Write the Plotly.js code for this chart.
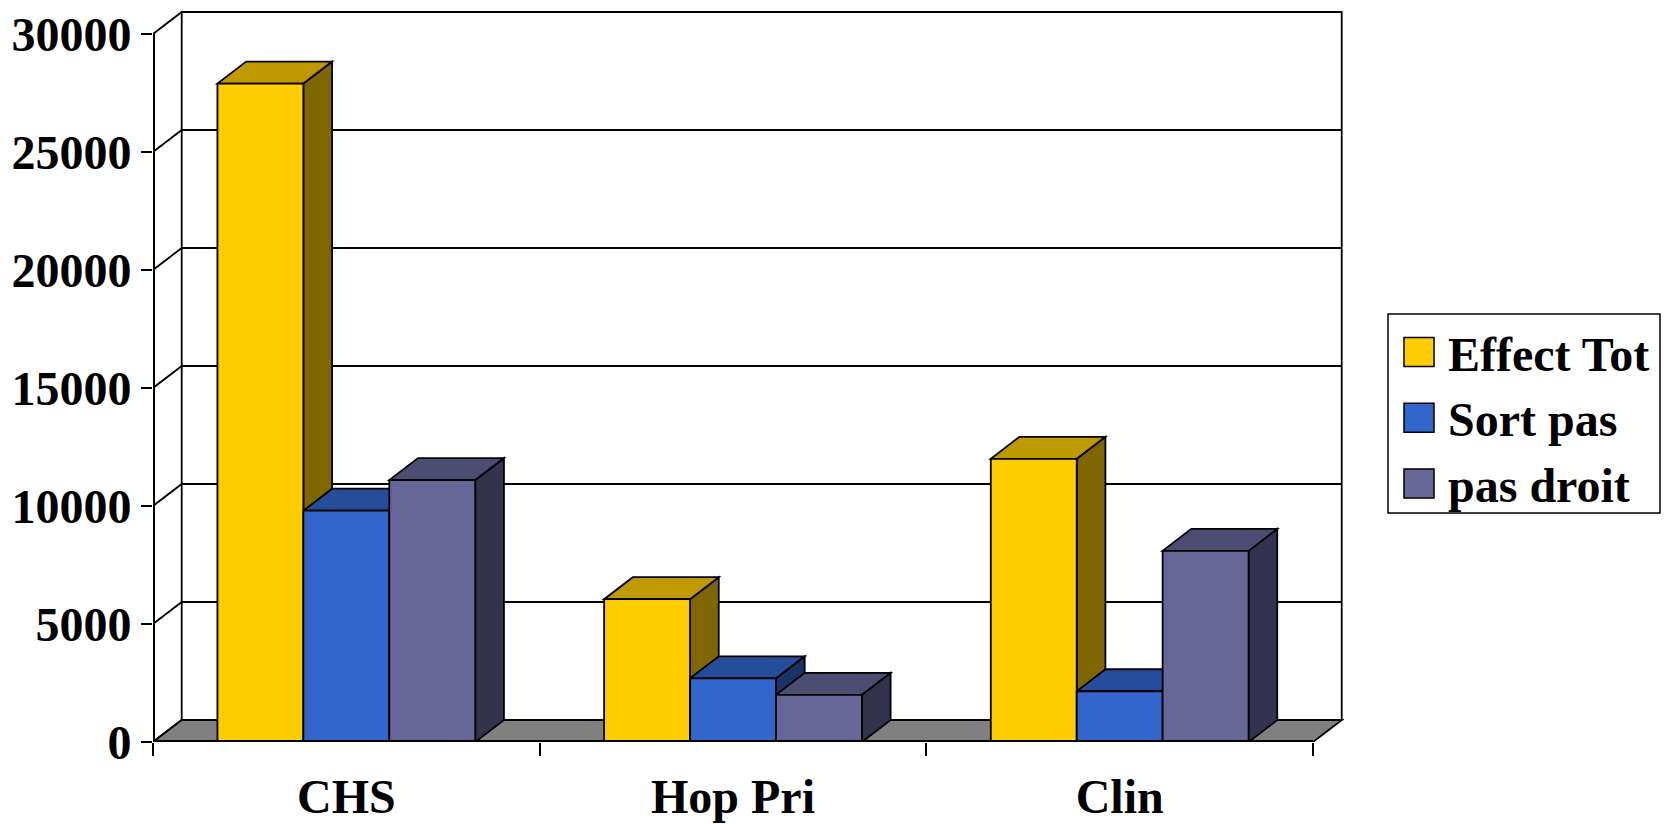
<!DOCTYPE html>
<html><head><meta charset="utf-8">
<script src="https://cdn.plot.ly/plotly-3.0.1.min.js"></script>
<style>html,body{margin:0;padding:0;background:#fff;}#chart{width:1664px;height:824px;}</style>
</head><body><div id="chart"></div>
<script>
// ---- data ----
const categories = ['CHS', 'Hop Pri', 'Clin'];
const seriesNames = ['Effect Tot', 'Sort pas', 'pas droit'];
const effectTot = [27900, 6050, 12000];
const sortPas = [9800, 2700, 2150];
const pasDroit = [11100, 2000, 8100];
const yTickVals = [0, 5000, 10000, 15000, 20000, 25000, 30000];

// ---- styling ----
const seriesValues = [effectTot, sortPas, pasDroit];
const frontColors = ['#FFCC00', '#3366CC', '#666699'];
const topColors = ['#BF9900', '#264D99', '#4D4D73'];
const sideColors = ['#806600', '#1A3366', '#33334D'];

const W = 1664, H = 824;
const M = {l: 153, r: 320, t: 10, b: 82};
const plotW = W - M.l - M.r;
const plotH = H - M.t - M.b;
const catPx = 386.67;              // pixels per category
const yMaxTick = yTickVals[yTickVals.length - 1];
const pxPerUnit = 708 / yMaxTick;  // pixels per value unit
const xMin = -0.5;
const xMax = xMin + plotW / catPx;
const yMax = plotH / pxPerUnit;
const dxu = 28.7 / catPx;          // depth offset in x units
const dyu = 22 / pxPerUnit;        // depth offset in y units
const nCat = categories.length;
const xEnd = nCat - 0.5;
const bargap = 1 / 3;
const nSer = seriesNames.length;
const bw = (1 - bargap) / nSer;
const LW = 1.8;
const FONT = {family: 'Liberation Serif, Times New Roman, serif', size: 48, color: '#000', weight: 'bold'};

const shapes = [];
// back wall
shapes.push({type: 'rect', layer: 'below', xref: 'x', yref: 'y',
  x0: xMin + dxu, x1: xEnd + dxu, y0: dyu, y1: yMaxTick + dyu,
  fillcolor: '#fff', line: {color: '#000', width: LW}});
// gridlines on back wall and diagonals on left wall
yTickVals.forEach(v => {
  shapes.push({type: 'line', layer: 'below', xref: 'x', yref: 'y',
    x0: xMin + dxu, x1: xEnd + dxu, y0: v + dyu, y1: v + dyu,
    line: {color: '#000', width: LW}});
  shapes.push({type: 'line', layer: 'below', xref: 'x', yref: 'y',
    x0: xMin, x1: xMin + dxu, y0: v, y1: v + dyu,
    line: {color: '#000', width: LW}});
});
// front y axis line
shapes.push({type: 'line', layer: 'below', xref: 'x', yref: 'y',
  x0: xMin, x1: xMin, y0: 0, y1: yMaxTick, line: {color: '#000', width: 4}});
// floor
shapes.push({type: 'path', layer: 'below', xref: 'x', yref: 'y',
  path: `M${xMin},0 L${xEnd},0 L${xEnd + dxu},${dyu} L${xMin + dxu},${dyu} Z`,
  fillcolor: '#808080', line: {color: '#000', width: LW}});
// 3D side and top faces of bars
for (let i = 0; i < nCat; i++) {
  for (let j = 0; j < nSer; j++) {
    const h = seriesValues[j][i];
    const xL = i - (1 - bargap) / 2 + j * bw;
    const xR = xL + bw;
    shapes.push({type: 'path', layer: 'below', xref: 'x', yref: 'y',
      path: `M${xR},0 L${xR},${h} L${xR + dxu},${h + dyu} L${xR + dxu},${dyu} Z`,
      fillcolor: sideColors[j], line: {color: '#000', width: LW}});
    shapes.push({type: 'path', layer: 'below', xref: 'x', yref: 'y',
      path: `M${xL},${h} L${xR},${h} L${xR + dxu},${h + dyu} L${xL + dxu},${h + dyu} Z`,
      fillcolor: topColors[j], line: {color: '#000', width: LW}});
  }
}
// bottom axis line
shapes.push({type: 'line', layer: 'above', xref: 'x', yref: 'y',
  x0: xMin, x1: xEnd, y0: 0, y1: 0, line: {color: '#000', width: 4}});

// ---- manual legend (paper coords from pixels) ----
const px2x = p => (p - M.l) / plotW;
const px2y = p => (H - M.b - p) / plotH;
shapes.push({type: 'rect', xref: 'paper', yref: 'paper', layer: 'above',
  x0: px2x(1388), x1: px2x(1660), y0: px2y(513), y1: px2y(314),
  fillcolor: '#fff', line: {color: '#000', width: 1.5}});
const annotations = [];
seriesNames.forEach((name, j) => {
  const cy = 352 + j * 65.7;
  shapes.push({type: 'rect', xref: 'paper', yref: 'paper', layer: 'above',
    x0: px2x(1404), x1: px2x(1434), y0: px2y(cy + 14.5), y1: px2y(cy - 14.5),
    fillcolor: frontColors[j], line: {color: '#000', width: 1.5}});
  annotations.push({xref: 'paper', yref: 'paper', x: px2x(1446), y: px2y(cy + 2),
    xanchor: 'left', yanchor: 'middle', showarrow: false, text: name,
    font: Object.assign({}, FONT, {size: 48})});
});

const traces = seriesNames.map((name, j) => ({
  type: 'bar', name: name, x: categories, y: seriesValues[j],
  marker: {color: frontColors[j], line: {color: '#000', width: LW}},
  showlegend: false, hoverinfo: 'skip'
}));

const layout = {
  width: W, height: H, margin: M,
  paper_bgcolor: '#fff', plot_bgcolor: 'rgba(0,0,0,0)',
  barmode: 'group', bargap: bargap, bargroupgap: 0,
  showlegend: false,
  xaxis: {type: 'category', range: [xMin, xMax], tickson: 'boundaries',
    ticks: 'outside', ticklen: 13, tickwidth: 2, tickcolor: '#000', ticklabelstandoff: 22,
    showgrid: false, zeroline: false, showline: false, tickfont: FONT, fixedrange: true},
  yaxis: {range: [0, yMax], tickvals: yTickVals, ticktext: yTickVals.map(String),
    ticks: 'outside', ticklen: 11, tickwidth: 2, tickcolor: '#000',
    showgrid: false, zeroline: false, showline: false, tickfont: FONT, fixedrange: true},
  shapes: shapes, annotations: annotations
};

Plotly.newPlot('chart', traces, layout, {displayModeBar: false, staticPlot: true});
</script>
</body></html>
